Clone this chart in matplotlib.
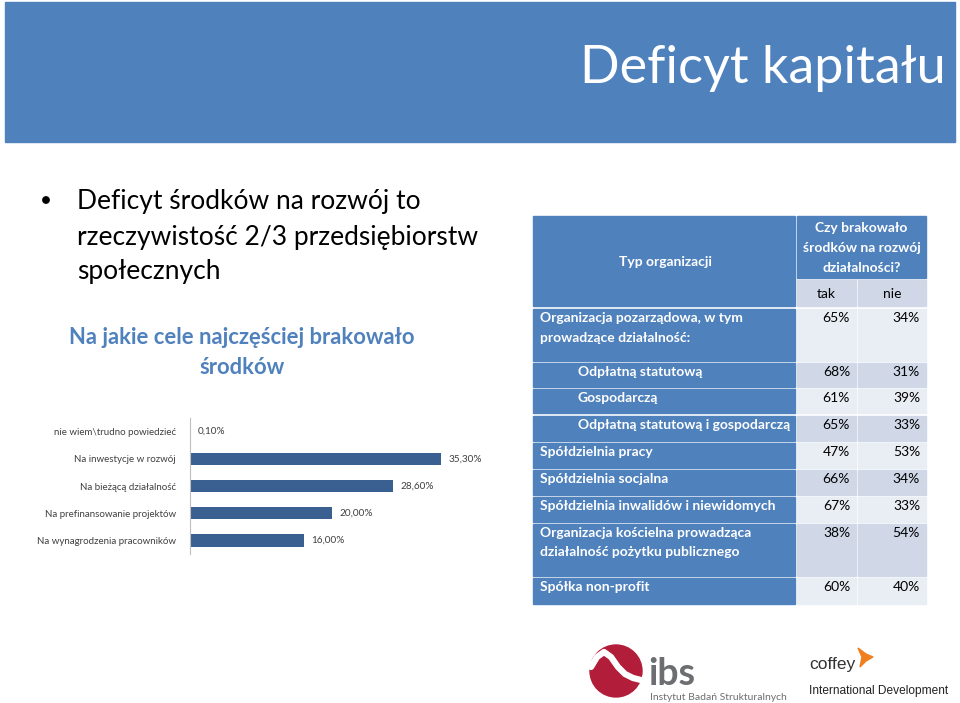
import matplotlib
matplotlib.use("Agg")
import matplotlib.pyplot as plt
from matplotlib.patches import Rectangle, Circle, Polygon
import numpy as np

# ---------------- data ----------------
title = "Deficyt kapitału"
bullet_lines = ["Deficyt środków na rozwój to", "rzeczywistość 2/3 przedsiębiorstw", "społecznych"]
chart_title_lines = ["Na jakie cele najczęściej brakowało", "środków"]

bar_categories = ["nie wiem\\trudno powiedzieć", "Na inwestycje w rozwój", "Na bieżącą działalność",
                  "Na prefinansowanie projektów", "Na wynagrodzenia pracowników"]
bar_values = [0.10, 35.30, 28.60, 20.00, 16.00]

table_header_left = "Typ organizacji"
table_header_right = "Czy brakowało\nśrodków na rozwój\ndziałalności?"
table_sub_headers = ["tak", "nie"]
table_rows = ["Organizacja pozarządowa, w tym\nprowadzące działalność:",
              "Odpłatną statutową",
              "Gospodarczą",
              "Odpłatną statutową i gospodarczą",
              "Spółdzielnia pracy",
              "Spółdzielnia socjalna",
              "Spółdzielnia inwalidów i niewidomych",
              "Organizacja kościelna prowadząca\ndziałalność pożytku publicznego",
              "Spółka non-profit"]
tak_values = [65, 68, 61, 65, 47, 66, 67, 38, 60]
nie_values = [34, 31, 39, 33, 53, 34, 33, 54, 40]

# ---------------- layout ----------------
W, H = 960, 703
FONT = ["Lato", "DejaVu Sans"]
BLUE = "#4F81BD"
LIGHT = "#E9EDF4"
MID = "#D0D8E8"

fig = plt.figure(figsize=(W / 100, H / 100), dpi=100)
bg = fig.add_axes([0, 0, 1, 1])
bg.set_xlim(0, W)
bg.set_ylim(H, 0)
bg.axis("off")

# header band
bg.add_patch(Rectangle((5, 2), 950, 140, color=BLUE, zorder=0))
bg.text(946, 68, title, ha="right", va="center", color="white", fontsize=37.5, family=FONT)

# bullet text
bg.add_patch(Circle((46, 200), 3.2, color="black"))
for i, line in enumerate(bullet_lines):
    bg.text(77, 202 + 35 * i, line, ha="left", va="center", fontsize=19, family=FONT, color="black")

# chart subtitle
for i, line in enumerate(chart_title_lines):
    bg.text(242, 338 + 29 * i, line, ha="center", va="center", fontsize=15.8, family=FONT,
            fontweight="bold", color=BLUE)

# ---------------- bar chart ----------------
ax_left, ax_top, ax_w, ax_h = 190, 418, 320, 136
ax = fig.add_axes([ax_left / W, (H - ax_top - ax_h) / H, ax_w / W, ax_h / H])
ypos = np.arange(len(bar_categories))
ax.barh(ypos, bar_values, height=0.45, color="#3A5F91")
ax.set_xlim(0, 45)
ax.set_ylim(len(bar_categories) - 0.5, -0.5)
ax.set_yticks(ypos)
ax.set_yticklabels(bar_categories, fontsize=7, color="#404040", family=FONT)
ax.tick_params(axis="y", length=0, pad=10)
ax.set_xticks([])
for s in ["top", "right", "bottom"]:
    ax.spines[s].set_visible(False)
ax.spines["left"].set_color("#BFBFBF")
ax.patch.set_alpha(0)
for y, v in zip(ypos, bar_values):
    ax.text(v + 1.0, y, f"{v:.2f}%".replace(".", ","), va="center", ha="left",
            fontsize=7.2, color="#404040", family=FONT)

# ---------------- table ----------------
c0, c1 = 533, 795
t0, t1 = 797, 856
n0, n1 = 858, 926
hdr_top, hdr_mid, hdr_bot = 216, 278, 306
row_tops = [309, 363, 389, 416, 443, 470, 497, 524, 578]
row_bots = [361, 387, 413, 441, 468, 495, 522, 576, 604]
indent = [0, 1, 1, 1, 0, 0, 0, 0, 0]
tfs = 10

bg.add_patch(Rectangle((c0, hdr_top), c1 - c0, hdr_bot - hdr_top, color=BLUE))
bg.text(665, 262, table_header_left, ha="center", va="center",
        color="white", fontsize=tfs, family=FONT, fontweight="bold")
bg.add_patch(Rectangle((t0, hdr_top), n1 - t0, hdr_mid - hdr_top, color=BLUE))
bg.text((t0 + n1) / 2, (hdr_top + hdr_mid) / 2 + 1, table_header_right, ha="center", va="center",
        color="white", fontsize=tfs, family=FONT, fontweight="bold", linespacing=1.8)
for (a, b), lab in zip([(t0, t1), (n0, n1)], table_sub_headers):
    bg.add_patch(Rectangle((a, hdr_mid + 2), b - a, hdr_bot - hdr_mid - 2, color=MID))
    bg.text((a + b) / 2, (hdr_mid + hdr_bot) / 2 + 2, lab, ha="center", va="center",
            color="black", fontsize=tfs, family=FONT)

for i, (lab, tv, nv) in enumerate(zip(table_rows, tak_values, nie_values)):
    top, bot = row_tops[i], row_bots[i]
    fill = LIGHT if i % 2 == 0 else MID
    bg.add_patch(Rectangle((c0, top), c1 - c0, bot - top, color=BLUE))
    bg.add_patch(Rectangle((t0, top), t1 - t0, bot - top, color=fill))
    bg.add_patch(Rectangle((n0, top), n1 - n0, bot - top, color=fill))
    x = 578 if indent[i] else 540
    bg.text(x, top + 3, lab, ha="left", va="top", color="white", fontsize=tfs, family=FONT,
            fontweight="bold", linespacing=1.75)
    bg.text(t1 - 6, top + 3, f"{tv}%", ha="right", va="top", color="black", fontsize=tfs, family=FONT)
    bg.text(n1 - 6, top + 3, f"{nv}%", ha="right", va="top", color="black", fontsize=tfs, family=FONT)

# ---------------- logos ----------------
bg.add_patch(Circle((616, 671), 26, color="#B21E3A"))
wx = np.array([591, 597, 604, 611, 618, 625, 633, 641])
wy = np.array([667, 657, 652, 657, 667, 674, 678, 680])
bg.plot(wx, wy, color="white", lw=4.5, solid_capstyle="round")
bg.text(648, 685, "ibs", ha="left", va="baseline", fontsize=27, color="#6D6E71", family=FONT,
        fontweight="bold")
bg.text(650, 697, "Instytut Badań Strukturalnych", ha="left", va="center", fontsize=7.5,
        color="#6D6E71", family=FONT)

bg.text(809, 664, "coffey", ha="left", va="center", fontsize=12.5, color="#333333",
        family=["Liberation Sans", "DejaVu Sans"])
bg.add_patch(Polygon([(858, 648), (866, 654), (873, 657), (866, 661), (860, 667), (862, 657)],
                     closed=True, color="#F07F1E"))
bg.text(809, 691, "International Development", ha="left", va="center", fontsize=8.6, color="#222222",
        family=["Liberation Sans", "DejaVu Sans"])

fig.savefig("out.png", dpi=100)
